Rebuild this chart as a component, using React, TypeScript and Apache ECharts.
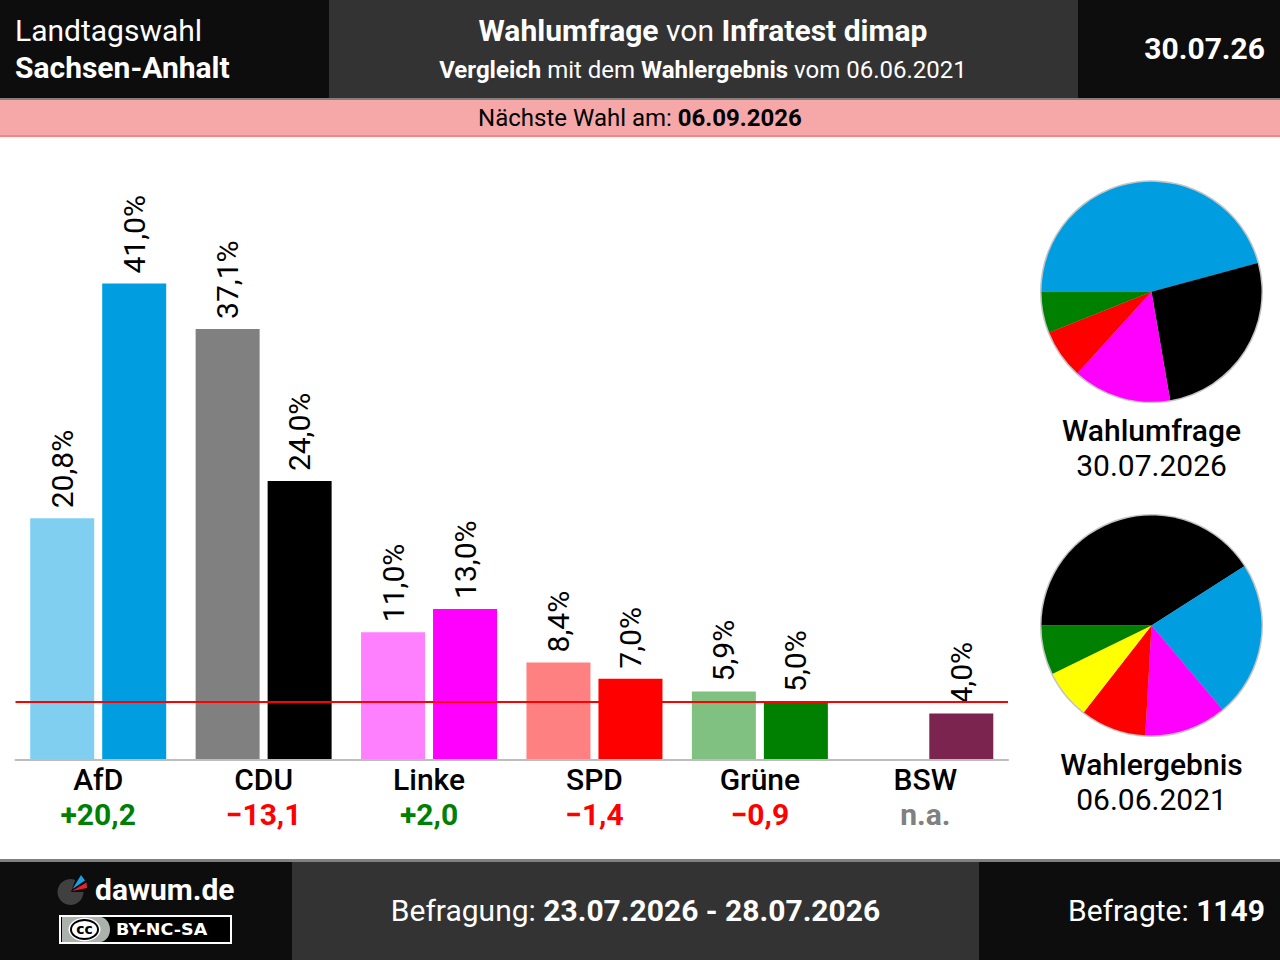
import React, { useEffect, useRef } from "react";
import * as echarts from "echarts";

const categories = ["AfD", "CDU", "Linke", "SPD", "Grüne", "BSW"];
const deltas = ["+20,2", "−13,1", "+2,0", "−1,4", "−0,9", "n.a."];
const deltaKinds = ["up", "down", "up", "down", "down", "na"];
const electionValues: (number | null)[] = [20.8, 37.1, 11.0, 8.4, 5.9, null];
const pollValues = [41.0, 24.0, 13.0, 7.0, 5.0, 4.0];
const electionColors = ["#80cff0", "#808080", "#ff80ff", "#ff8080", "#80c080", "#ffffff"];
const pollColors = ["#009ee0", "#000000", "#ff00ff", "#ff0000", "#008000", "#7b2450"];
const threshold = 5;

const pollPieNames = ["AfD", "CDU", "Linke", "SPD", "Grüne"];
const pollPieValues = [38, 22, 12, 6, 5];
const pollPieColors = ["#009ee0", "#000000", "#ff00ff", "#ff0000", "#008000"];
const electionPieNames = ["CDU", "AfD", "Linke", "SPD", "FDP", "Grüne"];
const electionPieValues = [34, 19, 10, 8, 6, 6];
const electionPieColors = ["#000000", "#009ee0", "#ff00ff", "#ff0000", "#ffff00", "#008000"];

const FONT = "Roboto";

const pieSeries = (cy: number, names: string[], values: number[], colors: string[]) => [
  {
    type: "pie",
    silent: true,
    z: 1,
    center: [1151.5, cy],
    radius: [0, 111.5],
    label: { show: false },
    labelLine: { show: false },
    data: [{ value: 1, name: "", itemStyle: { color: "#c4c4c4" } }],
  },
  {
    type: "pie",
    silent: true,
    z: 2,
    center: [1151.5, cy],
    radius: [0, 110],
    startAngle: 180,
    clockwise: true,
    label: { show: false },
    labelLine: { show: false },
    data: values.map((value, i) => ({ value, name: names[i], itemStyle: { color: colors[i] } })),
  },
];

const rect = (x: number, y: number, width: number, height: number, fill: string, z = 1) => ({
  type: "rect",
  silent: true,
  z,
  shape: { x, y, width, height },
  style: { fill },
});

const text = (x: number, y: number, t: string, size: number, fill: string, align: string, weight = 400, z = 5, family = FONT) => ({
  type: "text",
  silent: true,
  z,
  x,
  y,
  style: { text: t, font: `${weight} ${size}px "${family}"`, fill, align, verticalAlign: "middle" },
});

const richText = (x: number, y: number, t: string, size: number, fill: string, align: string) => ({
  type: "text",
  silent: true,
  z: 5,
  x,
  y,
  style: {
    text: t,
    fontFamily: FONT,
    fontSize: size,
    fill,
    align,
    verticalAlign: "middle",
    rich: {
      n: { fontFamily: FONT, fontSize: size, fontWeight: 400, fill },
      b: { fontFamily: FONT, fontSize: size, fontWeight: 700, fill },
    },
  },
});

const valueLabel = {
  show: true,
  position: "top",
  rotate: 90,
  distance: 10,
  align: "left",
  verticalAlign: "middle",
  fontFamily: FONT,
  fontSize: 30,
  color: "#000",
  formatter: (p: any) => (p.value == null ? "" : `${p.value.toFixed(1).replace(".", ",")}%`),
};

const option: any = {
  animation: false,
  backgroundColor: "#ffffff",
  textStyle: { fontFamily: FONT },
  grid: { left: 15.5, right: 272, top: 179, height: 581, containLabel: false },
  xAxis: {
    type: "category",
    data: categories,
    offset: 1,
    z: 5,
    axisTick: { show: false },
    axisLine: { lineStyle: { color: "#bdbdbd", width: 2 } },
    axisLabel: {
      interval: 0,
      margin: 1,
      formatter: (value: string, index: number) => `{name|${value}}\n{${deltaKinds[index]}|${deltas[index]}}`,
      rich: {
        name: { fontFamily: FONT, fontSize: 30, fontWeight: 500, color: "#000", lineHeight: 35 },
        up: { fontFamily: FONT, fontSize: 30, fontWeight: 700, color: "#008000", lineHeight: 35 },
        down: { fontFamily: FONT, fontSize: 30, fontWeight: 700, color: "#ff0000", lineHeight: 35 },
        na: { fontFamily: FONT, fontSize: 30, fontWeight: 700, color: "#808080", lineHeight: 35 },
      },
    },
  },
  yAxis: { type: "value", min: 0, max: 50, show: false, splitLine: { show: false } },
  series: [
    {
      type: "bar",
      name: "Wahlergebnis",
      barWidth: 64,
      barGap: "12.5%",
      z: 2,
      data: electionValues.map((value, i) => ({ value, itemStyle: { color: electionColors[i] } })),
      label: valueLabel,
    },
    {
      type: "bar",
      name: "Wahlumfrage",
      barWidth: 64,
      z: 2,
      data: pollValues.map((value, i) => ({ value, itemStyle: { color: pollColors[i] } })),
      label: valueLabel,
      markLine: {
        silent: true,
        symbol: "none",
        z: 4,
        label: { show: false },
        lineStyle: { color: "#ff0000", width: 2, type: "solid" },
        data: [{ yAxis: threshold }],
      },
    },
    ...pieSeries(291.8, pollPieNames, pollPieValues, pollPieColors),
    ...pieSeries(625.5, electionPieNames, electionPieValues, electionPieColors),
  ],
  graphic: [
    rect(0, 0, 1280, 98, "#0d0d0d"),
    rect(329, 0, 749, 98, "#333333", 2),
    rect(0, 98, 1280, 2, "#808080", 2),
    rect(0, 100, 1280, 36, "#f6a8a8", 2),
    rect(0, 135, 1280, 2, "#ff8080", 3),
    rect(0, 859, 1280, 3, "#808080", 2),
    rect(0, 862, 1280, 98, "#0d0d0d"),
    rect(292, 862, 687, 98, "#333333", 2),

    text(15, 30.5, "Landtagswahl", 30, "#ffffff", "left", 400),
    text(15, 67.5, "Sachsen-Anhalt", 30, "#ffffff", "left", 700),
    richText(703, 30.5, "{b|Wahlumfrage} {n|von} {b|Infratest dimap}", 30, "#ffffff", "center"),
    richText(703, 69.5, "{b|Vergleich} {n|mit dem} {b|Wahlergebnis} {n|vom 06.06.2021}", 24, "#ffffff", "center"),
    text(1265, 48.5, "30.07.26", 30, "#ffffff", "right", 700),
    richText(640, 118, "{n|Nächste Wahl am:} {b|06.09.2026}", 24, "#000000", "center"),

    text(1151.5, 430, "Wahlumfrage", 30, "#000000", "center", 500),
    text(1151.5, 465, "30.07.2026", 30, "#000000", "center", 400),
    text(1151.5, 764, "Wahlergebnis", 30, "#000000", "center", 500),
    text(1151.5, 799, "06.06.2021", 30, "#000000", "center", 400),

    richText(635.5, 910.5, "{n|Befragung:} {b|23.07.2026 - 28.07.2026}", 30, "#ffffff", "center"),
    richText(1265, 910.5, "{n|Befragte:} {b|1149}", 30, "#ffffff", "right"),

    { type: "circle", silent: true, z: 5, shape: { cx: 70.5, cy: 892, r: 13 }, style: { fill: "#404040" } },
    { type: "polygon", silent: true, z: 6, shape: { points: [[71, 892], [78, 872], [90, 880], [90, 892]] }, style: { fill: "#0d0d0d" } },
    { type: "polygon", silent: true, z: 7, shape: { points: [[72.5, 889], [81, 875], [85, 880.5]] }, style: { fill: "#1e9fe0" } },
    { type: "polygon", silent: true, z: 7, shape: { points: [[72, 891], [86.5, 882.5], [87, 888]] }, style: { fill: "#e8212b" } },
    text(95, 889.5, "dawum.de", 30, "#ffffff", "left", 700),
    rect(59, 915, 173, 29, "#ffffff", 5),
    rect(61, 917, 169, 25, "#000000", 6),
    rect(62, 917, 38, 25, "#aab2ab", 7),
    { type: "ellipse", silent: true, z: 7, shape: { cx: 100, cy: 929.5, rx: 10, ry: 12.5 }, style: { fill: "#aab2ab" } },
    { type: "ellipse", silent: true, z: 8, shape: { cx: 84.5, cy: 929.5, rx: 16, ry: 11.7 }, style: { fill: "#ffffff" } },
    { type: "ellipse", silent: true, z: 8, shape: { cx: 84.5, cy: 929.5, rx: 13.5, ry: 9.5 }, style: { fill: "#ffffff", stroke: "#000000", lineWidth: 2 } },
    text(84.5, 928.5, "cc", 14, "#000000", "center", 700, 9, "DejaVu Sans"),
    { ...text(116, 929.5, "BY-NC-SA", 15, "#ffffff", "left", 700, 8, "DejaVu Sans"), scaleX: 1.17 },
  ],
};

export default function App() {
  const ref = useRef<HTMLDivElement>(null);
  useEffect(() => {
    document.body.style.margin = "0";
    const chart = echarts.init(ref.current!, undefined, { renderer: "svg" });
    chart.setOption(option);
    return () => chart.dispose();
  }, []);
  return <div ref={ref} style={{ width: 1280, height: 960 }} />;
}
